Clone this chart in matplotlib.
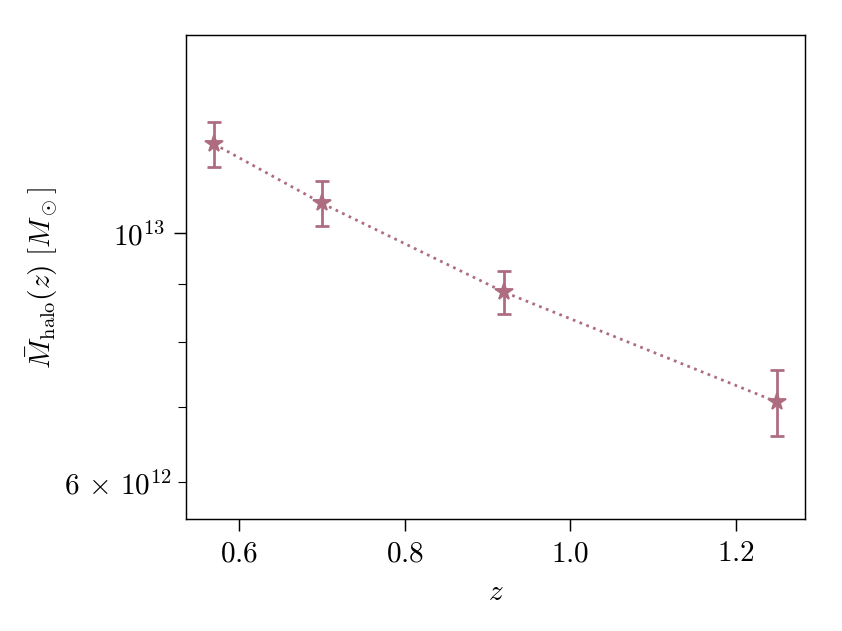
import matplotlib
matplotlib.use("Agg")
import matplotlib.pyplot as plt
from matplotlib.ticker import MultipleLocator, LogFormatterSciNotation

plt.rcParams['font.family'] = 'serif'
plt.rcParams['font.serif'] = ['cmr10']
plt.rcParams['mathtext.fontset'] = 'cm'
plt.rcParams['axes.formatter.use_mathtext'] = True
plt.rcParams['font.size'] = 16
for ax_name in ('xtick', 'ytick'):
    plt.rcParams[ax_name + '.major.size'] = 6.5
    plt.rcParams[ax_name + '.minor.size'] = 4.5
    plt.rcParams[ax_name + '.major.pad'] = 5


class SpacedSciFormatter(LogFormatterSciNotation):
    # TeX-like spacing around the \times sign
    def _non_decade_format(self, sign_string, base, fx, usetex):
        b = float(base)
        exponent = int(fx // 1)
        coeff = b ** (fx - exponent)
        if abs(coeff - round(coeff)) < 1e-6:
            coeff = round(coeff)
        return r'$\mathdefault{%s%g\,\times\,%s^{%d}}$' % (sign_string, coeff, base, exponent)


# redshift bins and mean halo mass with errors
z = [0.57, 0.70, 0.92, 1.25]
m_halo = [1.20e13, 1.063e13, 8.86e12, 7.07e12]
err_lo = [0.055e13, 0.049e13, 0.39e12, 0.47e12]
err_hi = [0.056e13, 0.049e13, 0.39e12, 0.48e12]

couleur = '#ad6c80'

fig = plt.figure(figsize=(6.4, 4.8), dpi=131.6)
ax = fig.add_axes([0.221, 0.177, 0.735, 0.766])

ax.errorbar(z, m_halo, yerr=[err_lo, err_hi], fmt='*', ls=':', color=couleur,
            markersize=10, capsize=4, elinewidth=1.5, capthick=1.5, lw=1.5)

ax.set_yscale('log')
ax.set_ylim(5.56e12, 1.5e13)
ax.yaxis.set_minor_formatter(SpacedSciFormatter(labelOnlyBase=False))
ax.xaxis.set_major_locator(MultipleLocator(0.2))
ax.set_xlabel(r'$z$', labelpad=7)
ax.set_ylabel(r'$\bar{M}_{\mathrm{halo}}(z)\ [M_\odot]$', labelpad=2)

fig.savefig('out.png', dpi=131.6)
